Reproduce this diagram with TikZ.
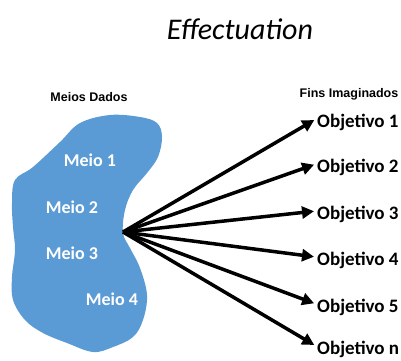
\documentclass[tikz,border=0pt]{standalone}
\usepackage{fontspec}
\setmainfont{Carlito}
\newfontfamily\arialfont{Liberation Sans}
\usetikzlibrary{arrows.meta}

\definecolor{blobblue}{RGB}{91,155,213}

\begin{document}
\begin{tikzpicture}
        [
            x=1pt,
            y=-1pt,
            meio/.style={
                text=white,
                font=\bfseries\fontsize{18}{18}\selectfont
            },
            fim/.style={
                anchor=west,
                inner sep=1pt,
                font=\bfseries\fontsize{19}{19}\selectfont
            },
            cabecalho/.style={
                font=\arialfont\bfseries\fontsize{12.5}{12.5}\selectfont
            },
            seta/.style={
                -{Triangle[length=12pt,width=12pt]},
                line width=3.5pt,
                shorten >=2pt
            }
         ]
        \useasboundingbox (0,0) rectangle (401,360);
        \node[font=\itshape\fontsize{30}{30}\selectfont] (titulo) at (240,29) {Effectuation};
        \node[cabecalho] (meios) at (89,97) {Meios Dados};
        \node[cabecalho] (fins) at (349,94) {Fins Imaginados};
        % the given means
        \fill[blobblue] plot[smooth cycle, tension=0.6] coordinates {
            (60,142) (80,123) (110,115) (140,117) (157,123) (162,137)
            (158,157) (147,173) (133,190) (125,210) (123,233) (130,248)
            (140,268) (147,295) (143,320) (133,337) (113,347) (93,352)
            (67,343) (43,333) (25,320) (13,300) (12,277) (15,250)
            (13,227) (12,203) (15,180) (33,167)};
        \coordinate (src) at (123,232);
        \node[meio] (meio1) at (90,160) {Meio 1};
        \node[meio] (meio2) at (72,207) {Meio 2};
        \node[meio] (meio3) at (72,253) {Meio 3};
        \node[meio] (meio4) at (112,299) {Meio 4};
        % the imagined ends
        \foreach \n/\y in {1/122,2/167,3/214,4/260,5/307,n/349} {
            \node[fim] (obj\n) at (316,\y) {Objetivo \n};
            \draw[seta] (src) -- ([yshift=3pt]obj\n.west);
        }
    \end{tikzpicture}
\end{document}
